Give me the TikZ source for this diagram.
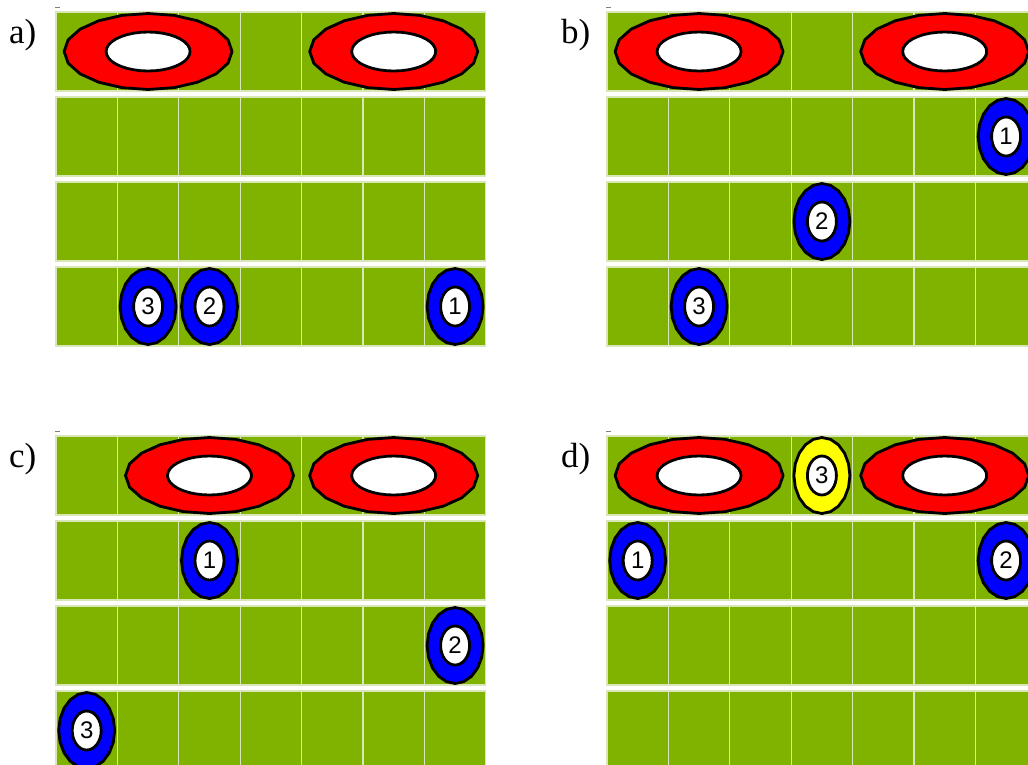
\documentclass[tikz,border=0pt]{standalone}
\usepackage{fontspec}
\setmainfont{Liberation Serif}
\newfontfamily\digitfont{Liberation Sans}
\usetikzlibrary{shapes.geometric}

\definecolor{boardgreen}{RGB}{128,178,0}
\definecolor{seamline}{RGB}{216,230,184}
\definecolor{ringred}{RGB}{255,0,0}
\definecolor{pieceblue}{RGB}{0,0,255}
\definecolor{pieceyellow}{RGB}{255,255,0}

\tikzset{
  cell/.style={fill=boardgreen, draw=seamline, line width=1.2pt},
  outline/.style={draw=black, line width=2.8pt, line join=round},
  hole/.style={
    % the white centre of a piece
    ellipse, draw=black, line width=2.8pt, fill=white,
    minimum width=29pt, minimum height=39pt, inner sep=0pt,
    font=\digitfont\fontsize{24}{24}\selectfont},
  panellabel/.style={anchor=base west, inner sep=0pt,
    font=\fontsize{35}{35}\selectfont}
}

% board of 7 x 4 cells, origin at the top left corner
\newcommand{\boardgrid}{%
  \foreach \r in {0,...,3}
    \foreach \c in {0,...,6}
      \draw[cell] (\c*61.4, \r*85) rectangle ++(61.4,79);
  \draw[gray, line width=0.6pt] (-1,-4.5) -- ++(5,0);}

% red ring in the first row: column
\newcommand{\ring}[1]{%
  \draw[outline, fill=ringred] plot[domain=0:360, samples=21]
    ({(#1+0.5)*61.4+84*cos(\x)}, {39.5+38*sin(\x)}) -- cycle;
  \draw[outline, fill=white] plot[domain=0:360, samples=37]
    ({(#1+0.5)*61.4+42*cos(\x)}, {39.5+19.5*sin(\x)}) -- cycle;}

% piece: name, column, row, colour, number
\newcommand{\piece}[5]{%
  \draw[outline, fill=#4] plot[domain=0:360, samples=21]
    ({(#2+0.5)*61.4+28*cos(\x)}, {#3*85+39.5+38*sin(\x)}) -- cycle;
  \node[hole] (#1) at ({(#2+0.5)*61.4}, {#3*85+39.5}) {#5};}

\begin{document}
\begin{tikzpicture}[x=1pt, y=-1pt]
  \useasboundingbox (0,0) rectangle (1028,764);
  \clip (0,0) rectangle (1028,764);
  \fill[white] (0,0) rectangle (1028,764);

  % a)
  \node[panellabel] (laba) at (9,43) {a)};
  \begin{scope}[shift={(56,12)}]
    \boardgrid
    \ring{1} \ring{5}
    \piece{a3}{1}{3}{pieceblue}{3}
    \piece{a2}{2}{3}{pieceblue}{2}
    \piece{a1}{6}{3}{pieceblue}{1}
  \end{scope}

  % b)
  \node[panellabel] (labb) at (561,43) {b)};
  \begin{scope}[shift={(607,12)}]
    \boardgrid
    \ring{1} \ring{5}
    \piece{b1}{6}{1}{pieceblue}{1}
    \piece{b2}{3}{2}{pieceblue}{2}
    \piece{b3}{1}{3}{pieceblue}{3}
  \end{scope}

  % c)
  \node[panellabel] (labc) at (9,467) {c)};
  \begin{scope}[shift={(56,436)}]
    \boardgrid
    \ring{2} \ring{5}
    \piece{c1}{2}{1}{pieceblue}{1}
    \piece{c2}{6}{2}{pieceblue}{2}
    \piece{c3}{0}{3}{pieceblue}{3}
  \end{scope}

  % d)
  \node[panellabel] (labd) at (561,467) {d)};
  \begin{scope}[shift={(607,436)}]
    \boardgrid
    \ring{1} \ring{5}
    \piece{d3}{3}{0}{pieceyellow}{3}
    \piece{d1}{0}{1}{pieceblue}{1}
    \piece{d2}{6}{1}{pieceblue}{2}
  \end{scope}
\end{tikzpicture}
\end{document}
